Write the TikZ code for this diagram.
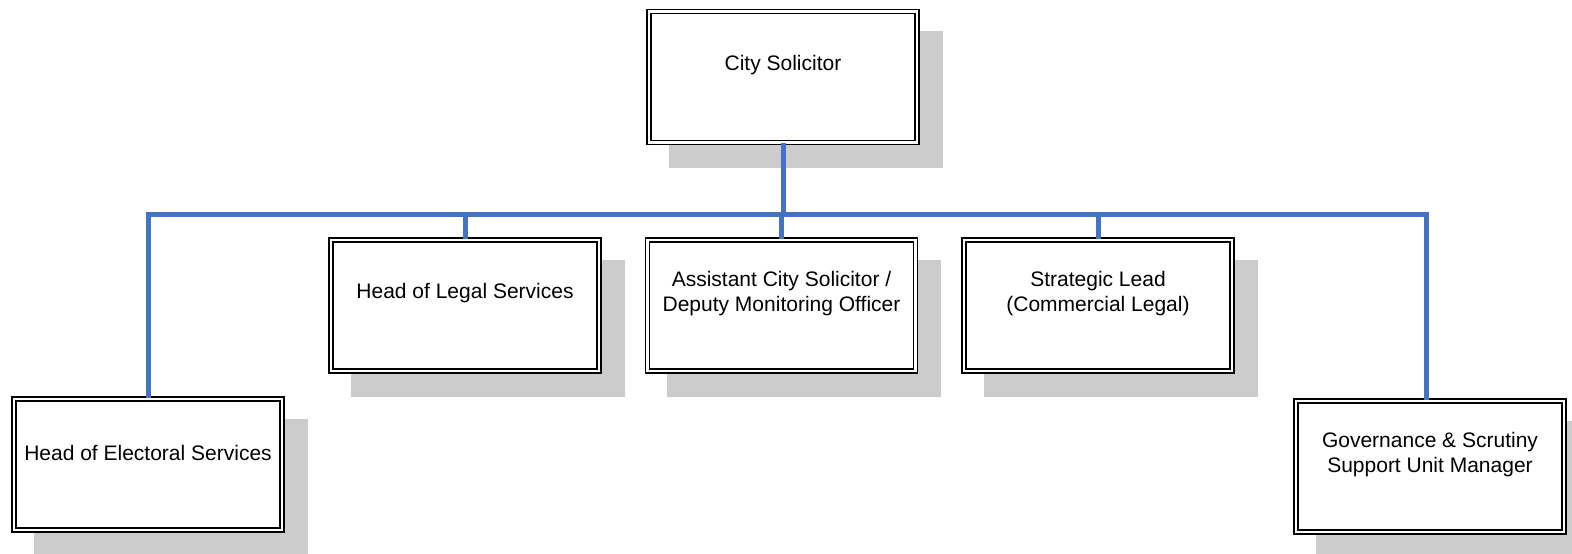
\documentclass[tikz,border=0pt]{standalone}
\usepackage{fontspec}
\setmainfont{Liberation Sans}
\definecolor{shadowgray}{HTML}{CCCCCC}
\definecolor{linkblue}{HTML}{4472C4}
\begin{document}
\begin{tikzpicture}[x=1pt,y=-1pt,
  shadowbox/.style={rectangle, fill=shadowgray, draw=none, inner sep=0pt,
    minimum width=274pt, minimum height=137pt},
  orgbox/.style={rectangle, draw=black, line width=1.5pt, double=white,
    double distance=2.8pt, fill=white, inner sep=0pt,
    minimum width=268pt, minimum height=131pt},
  boxtext/.style={align=center, font=\fontsize{21}{25.5}\selectfont, inner sep=0pt},
  conn/.style={draw=linkblue, line width=5pt}]
\useasboundingbox (0,0) rectangle (1572,554);
\clip (0,0) rectangle (1572,554);
% shadows
\node[shadowbox] (s-city) at (805.5,99.5) {};
\node[shadowbox] (s-legal) at (487.5,328) {};
\node[shadowbox] (s-asst) at (803.5,328) {};
\node[shadowbox] (s-strat) at (1120.5,328) {};
\node[shadowbox] (s-elec) at (170.5,487) {};
\node[shadowbox] (s-gov) at (1452.5,489) {};
% boxes
\node[orgbox] (city) at (783,77) {};
\node[orgbox] (legal) at (465,305.5) {};
\node[orgbox] (asst) at (781.5,305.5) {};
\node[orgbox] (strat) at (1098,305.5) {};
\node[orgbox] (elec) at (148,464.5) {};
\node[orgbox] (gov) at (1430,466.5) {};
% connectors
\coordinate (bus) at (782,214);
\draw[conn] (city.south) -- (city.south |- bus);
\draw[conn] (elec.north) |- (bus);
\draw[conn] ([xshift=-4pt]gov.north) |- (bus);
\draw[conn] (legal.north) -- (legal.north |- bus);
\draw[conn] (asst.north) -- (asst.north |- bus);
\draw[conn] (strat.north) -- (strat.north |- bus);
% texts
\node[boxtext] (t-city) at ([yshift=12pt]city.center) {City Solicitor};
\node[boxtext] (t-legal) at ([yshift=12pt]legal.center) {Head of Legal Services};
\node[boxtext] (t-asst) at ([yshift=12pt]asst.center) {Assistant City Solicitor /\\Deputy Monitoring Officer};
\node[boxtext] (t-strat) at ([yshift=12pt]strat.center) {Strategic Lead\\(Commercial Legal)};
\node[boxtext] (t-elec) at ([yshift=12pt]elec.center) {Head of Electoral Services};
\node[boxtext] (t-gov) at ([yshift=12pt]gov.center) {Governance \& Scrutiny\\Support Unit Manager};
\end{tikzpicture}
\end{document}
